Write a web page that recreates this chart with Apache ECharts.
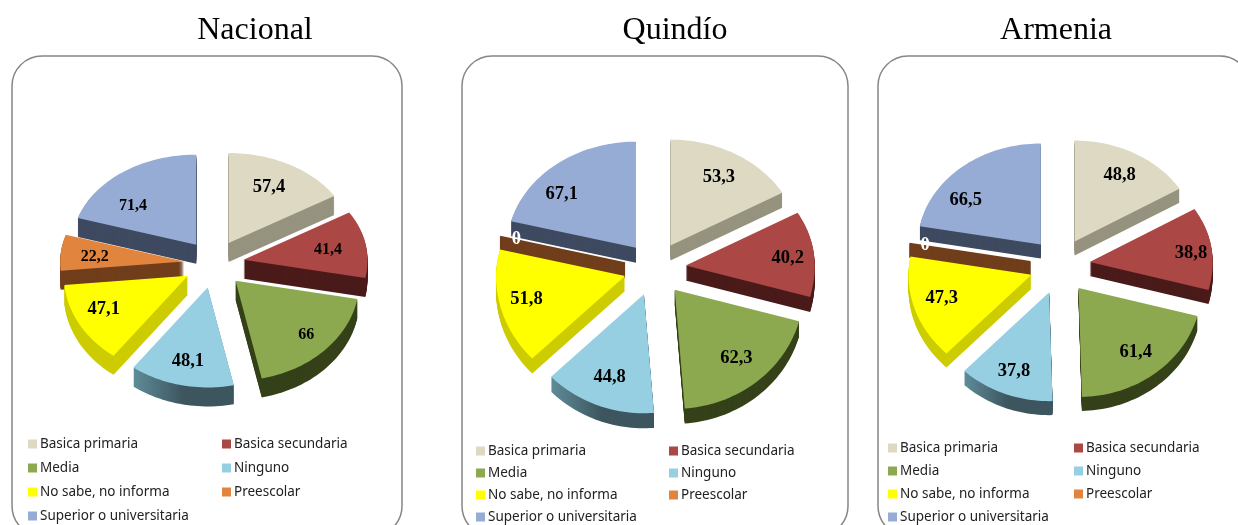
<!DOCTYPE html>
<html>
<head>
<meta charset="utf-8">
<style>html,body{margin:0;padding:0;background:#fff}#chart{width:1238px;height:525px}</style>
<script src="https://cdn.jsdelivr.net/npm/echarts@6/dist/echarts.min.js"></script>
</head>
<body>
<div id="chart"></div>
<script>
let categories = ['Basica primaria', 'Basica secundaria', 'Media', 'Ninguno', 'No sabe, no informa', 'Preescolar', 'Superior o universitaria'];
let nacional = [57.4, 41.4, 66, 48.1, 47.1, 22.2, 71.4];
let quindio = [53.3, 40.2, 62.3, 44.8, 51.8, 0, 67.1];
let armenia = [48.8, 38.8, 61.4, 37.8, 47.3, 0, 66.5];
let topColors = ['#DDD9C3', '#AB4744', '#8CA950', '#96CFE1', '#FFFF00', '#E0843E', '#97ACD5'];
let sideColors = ['#96937F', '#4A1B1A', '#354119', '#3C555F', '#CCCC00', '#713E1C', '#3E4A60'];

let panels = [
  { title: 'Nacional', values: nacional, titleX: 255, frame: [12, 390], cx: 214, cy: 264, rx: 124, ryUp: 90, ryDown: 100, ex: 30, ey: 24, depth: 19, legendX: [28, 222], legendTop: 437, legendGap: 10, small: [1, 2, 5, 6], nudge: { 0: [-5, 3], 1: [-7, 3], 2: [4, 2], 4: [-3, -3], 5: [3, 2], 6: [-8, 16] } },
  { title: 'Quindío', values: quindio, titleX: 675, frame: [462, 386], cx: 655, cy: 269, rx: 129, ryUp: 106, ryDown: 119, ex: 31, ey: 27, depth: 15, legendX: [476, 669], legendTop: 444, legendGap: 8, small: [], nudge: { 1: [6, 3], 4: [-5, 1], 6: [-15, 9] } },
  { title: 'Armenia', values: armenia, titleX: 1056, frame: [878, 372], cx: 1060, cy: 266, rx: 123, ryUp: 101, ryDown: 109, ex: 30, ey: 28, depth: 14, legendX: [888, 1074], legendTop: 441, legendGap: 9, small: [], nudge: { 1: [10, 2], 3: [-2, 3], 4: [-2, -2], 6: [-16, 14] } }
];

function fmt(v) {
  return String(v).replace('.', ',');
}

function angleOf(v, total) {
  return echarts.number.linearMap(v, [0, total], [0, Math.PI * 2]);
}

function sideFill(i) {
  // Ninguno has a lit rim on its left side
  if (i == 3) {
    return new echarts.graphic.LinearGradient(0, 0, 1, 0, [
      { offset: 0, color: '#5F8C99' },
      { offset: 0.5, color: '#3C555F' },
      { offset: 1, color: '#3C555F' }
    ]);
  }
  return sideColors[i];
}

// one slice of an exploded, tilted pie
function sliceRenderer(p, i) {
  return function (params, api) {
    let start = api.value(0);
    let value = api.value(1);
    let total = api.value(2);
    let a0 = angleOf(start, total);
    let a1 = angleOf(start + value, total);
    let mid = (a0 + a1) / 2;
    let ax = p.cx + p.ex * Math.sin(mid);
    let ay = p.cy - p.ey * Math.cos(mid);
    let at = function (a, f) {
      let c = -Math.cos(a);
      return [ax + p.rx * f * Math.sin(a), ay + (c < 0 ? p.ryUp : p.ryDown) * f * c];
    };
    let pts = [[ax, ay]];
    let steps = Math.max(1, Math.ceil((a1 - a0) / 0.03));
    for (let s = 0; s <= steps; s++) {
      pts.push(at(a0 + (a1 - a0) * s / steps, 1));
    }
    let children = [];
    for (let d = p.depth; d >= 1; d--) {
      children.push({
        type: 'polygon',
        y: d,
        shape: { points: pts },
        style: value === 0
          ? { fill: sideColors[i], stroke: sideColors[i], lineWidth: 2.2 }
          : { fill: sideFill(i) }
      });
    }
    if (value !== 0) {
      children.push({
        type: 'polygon',
        shape: { points: pts },
        style: { fill: topColors[i] }
      });
    }
    let lp = at(mid, value === 0 ? 0.87 : 0.75);
    let nudge = p.nudge[i] || [0, 0];
    children.push({
      type: 'text',
      x: lp[0] + nudge[0],
      y: lp[1] + nudge[1],
      style: {
        text: fmt(value),
        align: 'center',
        verticalAlign: 'middle',
        fontFamily: 'Liberation Serif',
        fontWeight: 'bold',
        fontSize: p.small.indexOf(i) >= 0 ? 16 : 18.5,
        fill: value === 0 ? '#fff' : '#000'
      }
    });
    return { type: 'group', children: children };
  };
}

function makeLegend(names, x, p) {
  return {
    orient: 'vertical',
    left: x,
    top: p.legendTop,
    height: 120,
    padding: 0,
    itemWidth: 9,
    itemHeight: 9,
    itemGap: p.legendGap,
    icon: 'rect',
    selectedMode: false,
    data: names,
    textStyle: { fontFamily: 'Noto Sans', fontSize: 13.5, color: '#222', padding: [0, 0, 0, -2] }
  };
}

let series = [];
let titles = [];
let legends = [];
let frames = [];

panels.forEach(function (p) {
  titles.push({
    text: p.title,
    left: p.titleX,
    top: 15,
    padding: 0,
    textAlign: 'center',
    textStyle: { fontFamily: 'Liberation Serif', fontSize: 32, fontWeight: 'normal', color: '#000' }
  });
  frames.push({
    type: 'rect',
    shape: { x: p.frame[0], y: 56, width: p.frame[1], height: 480, r: 30 },
    style: { fill: '#fff', stroke: '#868686', lineWidth: 1.5 },
    z: 0
  });
  legends.push(makeLegend(categories.filter((c, i) => i % 2 == 0), p.legendX[0], p));
  legends.push(makeLegend(categories.filter((c, i) => i % 2 == 1), p.legendX[1], p));

  let total = p.values.reduce((a, b) => a + b, 0);
  let running = 0;
  let slices = p.values.map(function (v, i) {
    let row = { i: i, row: [running, v, total], back: -Math.cos(angleOf(running + v / 2, total)) };
    running += v;
    return row;
  });
  // paint from the back of the pie to the front
  slices.sort((a, b) => a.back - b.back);
  slices.forEach(function (s, order) {
    series.push({
      type: 'custom',
      name: categories[s.i],
      coordinateSystem: 'none',
      z: 2 + order,
      silent: true,
      itemStyle: { color: topColors[s.i] },
      renderItem: sliceRenderer(p, s.i),
      data: [s.row]
    });
  });
});

let chart = echarts.init(document.getElementById('chart'));
chart.setOption({
  animation: false,
  title: titles,
  legend: legends,
  graphic: frames,
  series: series
});
</script>
</body>
</html>
